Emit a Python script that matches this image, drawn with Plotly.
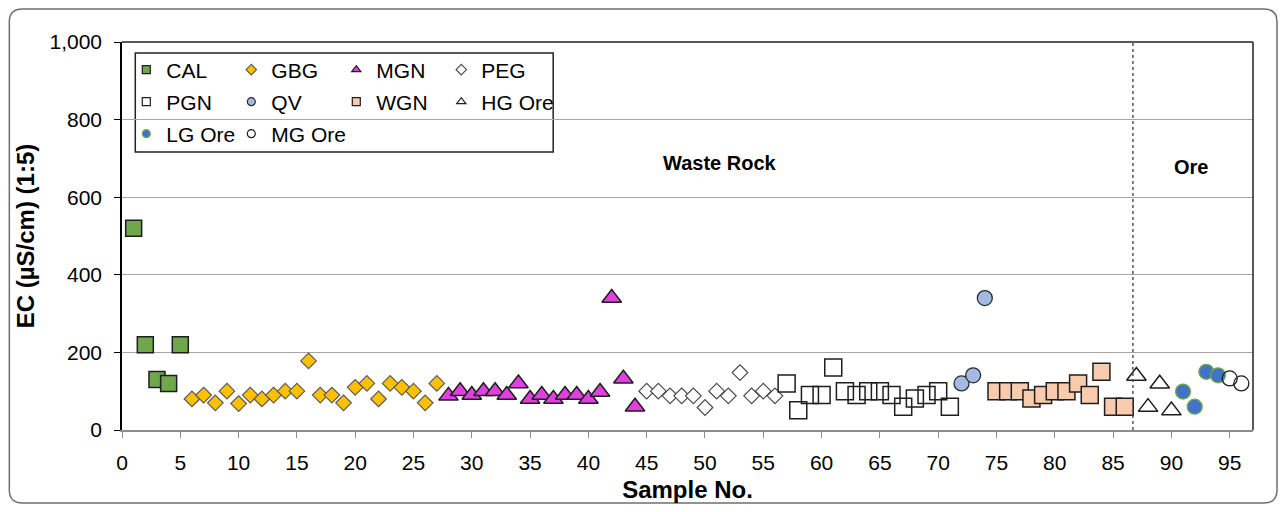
import plotly.graph_objects as go

# ---------------- data ----------------
cal_x = [1, 2, 3, 4, 5]
cal_y = [520, 220, 130, 120, 220]

gbg_x = [6, 7, 8, 9, 10, 11, 12, 13, 14, 15, 16, 17, 18, 19, 20, 21, 22, 23, 24, 25, 26, 27]
gbg_y = [80, 90, 70, 100, 68, 90, 80, 90, 100, 100, 178, 90, 90, 70, 110, 120, 80, 120, 110, 100, 70, 120]

mgn_x = [28, 29, 30, 31, 32, 33, 34, 35, 36, 37, 38, 39, 40, 41, 42, 43, 44]
mgn_y = [88, 100, 90, 100, 100, 90, 120, 80, 90, 80, 90, 90, 80, 98, 340, 132, 60]

peg_x = [45, 46, 47, 48, 49, 50, 51, 52, 53, 54, 55, 56]
peg_y = [100, 100, 88, 88, 88, 58, 100, 88, 148, 88, 100, 88]

pgn_x = [57, 58, 59, 60, 61, 62, 63, 64, 65, 66, 67, 68, 69, 70, 71]
pgn_y = [120, 51, 90, 90, 161, 100, 90, 100, 100, 90, 60, 81, 90, 100, 60]

qv_x = [72, 73, 74]
qv_y = [120, 141, 340]

wgn_x = [75, 76, 77, 78, 79, 80, 81, 82, 83, 84, 85, 86]
wgn_y = [100, 100, 100, 81, 90, 100, 100, 120, 90, 150, 60, 60]

hg_x = [87, 88, 89, 90]
hg_y = [139, 59, 119, 50]

lg_x = [91, 92, 93, 94]
lg_y = [99, 60, 150, 141]

mg_x = [95, 96]
mg_y = [133, 120]

ore_divider = 86.7
x_ticks = [0, 5, 10, 15, 20, 25, 30, 35, 40, 45, 50, 55, 60, 65, 70, 75, 80, 85, 90, 95]
y_ticks = [0, 200, 400, 600, 800, 1000]
y_tick_text = ["0", "200", "400", "600", "800", "1,000"]

# ---------------- styles ----------------
series = [
    # name, x, y, symbol, size, fill, line color, line width, legend row
    ("CAL", cal_x, cal_y, "square", 16, "#6FA84A", "#1e1e1e", 1.5, "legend"),
    ("GBG", gbg_x, gbg_y, "diamond", 12, "#FFC000", "#5a5a5a", 1.2, "legend"),
    ("MGN", mgn_x, mgn_y, "triangle-up", 17, "#E040E0", "#1e1e1e", 1.5, "legend"),
    ("PEG", peg_x, peg_y, "diamond", 12, "#FFFFFF", "#4a4a4a", 1.2, "legend"),
    ("PGN", pgn_x, pgn_y, "square", 17, "rgba(255,255,255,0)", "#1e1e1e", 1.5, "legend2"),
    ("QV", qv_x, qv_y, "circle", 15, "#A3BBE3", "#2a2a2a", 1.3, "legend2"),
    ("WGN", wgn_x, wgn_y, "square", 17, "#F8CBAD", "#1e1e1e", 1.5, "legend2"),
    ("HG Ore", hg_x, hg_y, "triangle-up", 17, "#FFFFFF", "#1e1e1e", 1.5, "legend2"),
    ("LG Ore", lg_x, lg_y, "circle", 15, "#4472C4", "#70AD47", 1.3, "legend3"),
    ("MG Ore", mg_x, mg_y, "circle", 15, "rgba(255,255,255,0)", "#1e1e1e", 1.3, "legend3"),
]

fig = go.Figure()
for name, xs, ys, sym, size, fill, lc, lw, leg in series:
    fig.add_trace(go.Scatter(
        x=xs, y=ys, mode="markers", name=name, showlegend=False,
        marker=dict(symbol=sym, size=size, color=fill, line=dict(color=lc, width=lw)),
        cliponaxis=False,
    ))
# legend-only entries (small markers like the original legend)
for name, xs, ys, sym, size, fill, lc, lw, leg in series:
    fig.add_trace(go.Scatter(
        x=[None], y=[None], mode="markers", name=name, legend=leg,
        marker=dict(symbol=sym, size=8, color=fill, line=dict(color=lc, width=1.2)),
    ))
# invisible trailing entries so that the last legend labels are not clipped
for leg in ["legend", "legend2", "legend3"]:
    fig.add_trace(go.Scatter(
        x=[None], y=[None], mode="markers", name=" ", legend=leg,
        marker=dict(size=1, color="rgba(0,0,0,0)", line=dict(width=0, color="rgba(0,0,0,0)")),
        hoverinfo="skip",
    ))

# ---------------- layout helpers ----------------
OFF = 8                      # page body margin
W, H = 1270, 496             # figure size (fits the 1286x512 window with the margin)
PL, PR, PT, PB = 121.7, 1253, 42, 430   # plot area in screen pixels
L, T = PL - OFF, PT - OFF
R, B = W - (PR - OFF), H - (PB - OFF)
pw, ph = W - L - R, H - T - B


def px(xs):
    return (xs - OFF - L) / pw


def py(ys):
    return (H - B - (ys - OFF)) / ph


font_family = "Liberation Sans, Arial, sans-serif"

legend_common = dict(
    orientation="h", xanchor="left", yanchor="middle",
    bgcolor="rgba(0,0,0,0)", borderwidth=0,
    font=dict(family=font_family, size=21, color="#000"),
    entrywidth=60, entrywidthmode="pixels",
    itemclick=False, itemdoubleclick=False,
)

fig.update_layout(
    width=W, height=H,
    margin=dict(l=L, r=R, t=T, b=B, autoexpand=False),
    paper_bgcolor="white", plot_bgcolor="white",
    font=dict(family=font_family, color="#000"),
    legend=dict(x=px(126), y=py(70), **legend_common),
    legend2=dict(x=px(126), y=py(102), **legend_common),
    legend3=dict(x=px(126), y=py(134), **legend_common),
    xaxis=dict(
        range=[0, 97], tickvals=x_ticks, ticks="outside", ticklen=6, tickcolor="#8c8c8c",
        tickwidth=1.2, showline=True, linecolor="#8c8c8c", linewidth=1.5, showgrid=False,
        zeroline=False, tickfont=dict(size=21, family=font_family), ticklabelstandoff=7,
        title=dict(text="<b>Sample No.</b>", font=dict(size=24, family=font_family), standoff=8),
    ),
    yaxis=dict(
        range=[0, 1000], tickvals=y_ticks, ticktext=y_tick_text, ticks="outside", ticklen=6,
        tickcolor="#000", tickwidth=1.2, showline=True, linecolor="#000", linewidth=1.5,
        showgrid=True, gridcolor="#a6a6a6", gridwidth=1.2, zeroline=False,
        tickfont=dict(size=21, family=font_family), ticklabelstandoff=8,
        title=dict(text="<b>EC (µS/cm) (1:5)</b>", font=dict(size=24, family=font_family), standoff=8),
    ),
)

# top and right frame of plot area
fig.add_shape(type="line", xref="paper", yref="paper", x0=0, x1=1, y0=1, y1=1,
              line=dict(color="#222", width=1.5))
fig.add_shape(type="line", xref="paper", yref="paper", x0=1, x1=1, y0=0, y1=1,
              line=dict(color="#222", width=1.5))

# divider between waste rock and ore
fig.add_shape(type="line", xref="x", yref="paper", x0=ore_divider, x1=ore_divider, y0=0, y1=1,
              line=dict(color="#555", width=1.5, dash="dot"))

# legend box
fig.add_shape(type="rect", xref="paper", yref="paper",
              x0=px(135), x1=px(553), y0=py(152), y1=py(53),
              line=dict(color="#222", width=1.5), fillcolor="rgba(0,0,0,0)", layer="below")

# outer rounded chart border (along the figure edge)
x0, x1, y0, y1, r = OFF + 1, OFF + W - 1, OFF + 1, OFF + H - 1, 13
path = (f"M {px(x0 + r)},{py(y0)} L {px(x1 - r)},{py(y0)} "
        f"Q {px(x1)},{py(y0)} {px(x1)},{py(y0 + r)} L {px(x1)},{py(y1 - r)} "
        f"Q {px(x1)},{py(y1)} {px(x1 - r)},{py(y1)} L {px(x0 + r)},{py(y1)} "
        f"Q {px(x0)},{py(y1)} {px(x0)},{py(y1 - r)} L {px(x0)},{py(y0 + r)} "
        f"Q {px(x0)},{py(y0)} {px(x0 + r)},{py(y0)} Z")
fig.add_shape(type="path", xref="paper", yref="paper", path=path,
              line=dict(color="#6f6f6f", width=1.5), layer="below")

fig.add_annotation(x=51.3, y=687, xref="x", yref="y", text="<b>Waste Rock</b>", showarrow=False,
                   font=dict(size=20, family=font_family, color="#000"))
fig.add_annotation(x=91.7, y=677, xref="x", yref="y", text="<b>Ore</b>", showarrow=False,
                   font=dict(size=20, family=font_family, color="#000"))

fig.write_html("out.html")
